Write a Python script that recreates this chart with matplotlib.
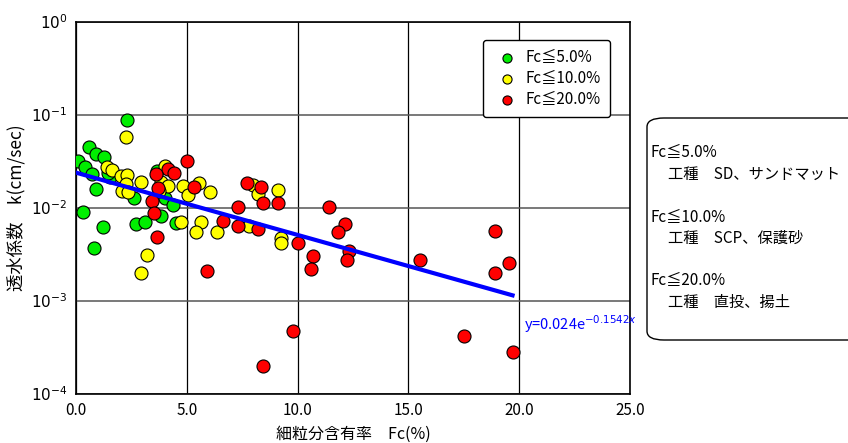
import numpy as np
import matplotlib
matplotlib.use("Agg")
import matplotlib.pyplot as plt
from matplotlib.patches import FancyBboxPatch

plt.rcParams['font.family'] = ['Noto Sans CJK JP', 'DejaVu Sans']

# 細粒分含有率 Fc(%) と 透水係数 k(cm/sec)
green_fc = [0.1, 0.42, 0.59, 0.9, 1.25, 0.74, 0.9, 1.53, 1.44, 2.31, 2.63, 3.67, 4.01, 4.39,
            0.3, 0.81, 1.22, 2.72, 3.13, 3.85, 4.52]
green_k = [0.032, 0.0278, 0.0456, 0.038, 0.0353, 0.023, 0.0159, 0.0217, 0.024, 0.0883, 0.0127,
           0.0252, 0.0127, 0.0108, 0.009, 0.00374, 0.0063, 0.00673, 0.0070, 0.0082, 0.00695]

yellow_fc = [2.24, 1.41, 1.64, 2.02, 2.29, 2.24, 2.09, 2.36, 2.93, 4.0, 3.82, 4.14, 3.76, 4.84,
             5.04, 5.53, 6.03, 8.0, 8.2, 9.13, 4.72, 5.62, 5.43, 6.35, 7.82, 9.23, 9.23, 3.22, 2.92]
yellow_k = [0.0585, 0.0278, 0.0256, 0.0223, 0.0226, 0.0181, 0.0153, 0.0150, 0.0192, 0.0285,
            0.0189, 0.0174, 0.0153, 0.0172, 0.0138, 0.0187, 0.015, 0.0177, 0.014, 0.0156,
            0.0070, 0.0070, 0.0055, 0.0055, 0.00645, 0.0048, 0.0042, 0.00313, 0.0020]

red_fc = [5.02, 4.16, 4.43, 3.63, 3.68, 5.34, 3.41, 7.73, 8.35, 8.42, 9.13, 7.32, 3.5, 3.64,
          5.92, 6.64, 7.32, 8.22, 10.0, 9.8, 8.45, 11.43, 12.13, 11.83, 12.33, 12.24, 10.7,
          10.6, 15.52, 18.91, 18.91, 19.52, 17.5, 19.72]
red_k = [0.032, 0.0263, 0.024, 0.023, 0.0163, 0.0167, 0.012, 0.0187, 0.017, 0.0114, 0.0112,
         0.0102, 0.0089, 0.00484, 0.00212, 0.0073, 0.0064, 0.0059, 0.0042, 0.00047, 0.0002,
         0.0102, 0.0067, 0.00556, 0.00345, 0.00276, 0.00305, 0.00221, 0.00276, 0.0057,
         0.00198, 0.00254, 0.00042, 0.00028]

# 近似曲線 y = a * exp(b * x)
fit_a = 0.024
fit_b = -0.1542
fit_range = [0.0, 19.7]

x_ticks = [0, 5, 10, 15, 20, 25]
x_labels = ["0.0", "5.0", "10.0", "15.0", "20.0", "25.0"]

fig = plt.figure(figsize=(8.48, 4.43), dpi=100)
ax = fig.add_axes([76/848, 1-394/443, 554/848, 372/443])

ms = 88
ax.scatter(green_fc, green_k, s=ms, c='#00ee00', edgecolors='black', linewidths=0.8,
           zorder=3, label='Fc≦5.0%')
ax.scatter(yellow_fc, yellow_k, s=ms, c='#ffff00', edgecolors='black', linewidths=0.8,
           zorder=3, label='Fc≦10.0%')
ax.scatter(red_fc, red_k, s=ms, c='#ff0000', edgecolors='black', linewidths=0.8,
           zorder=3, label='Fc≦20.0%')

xs = np.linspace(fit_range[0], fit_range[1], 100)
ax.plot(xs, fit_a * np.exp(fit_b * xs), color='#0000ff', lw=3, zorder=4)
ax.text(20.2, 5.6e-4, "y=0.024e$^{-0.1542x}$", color='#0000ff', fontsize=10.5,
        va='center', ha='left', zorder=5)

ax.set_yscale('log')
ax.set_xlim(0, 25)
ax.set_ylim(1e-4, 1)
ax.set_xticks(x_ticks)
ax.set_xticklabels(x_labels)
ax.set_yticks([1e-4, 1e-3, 1e-2, 1e-1, 1])
ax.set_yticklabels(["$10^{-4}$", "$10^{-3}$", "$10^{-2}$", "$10^{-1}$", "$10^{0}$"])
ax.minorticks_off()
ax.tick_params(length=0, labelsize=11, pad=6)

ax.grid(True, axis='x', color='black', lw=0.9)
ax.grid(True, axis='y', color='#555555', lw=1.1)
ax.set_axisbelow(True)
for sp in ax.spines.values():
    sp.set_color('black')
    sp.set_linewidth(1.2)

ax.set_xlabel("細粒分含有率　Fc(%)", fontsize=11.5, labelpad=5)
ax.set_ylabel("透水係数　k(cm/sec)", fontsize=12.5, labelpad=4)

leg = ax.legend(loc='upper right', bbox_to_anchor=(0.978, 0.972), fontsize=11,
                frameon=True, fancybox=True, edgecolor='black', framealpha=1,
                handletextpad=0.2, labelspacing=0.25, borderpad=0.6, markerscale=0.7)
leg.get_frame().set_linewidth(1.0)

# 右側の説明枠
W, H = 848, 443
box = FancyBboxPatch((647/W, 1-340/H), 230/W, 222/H,
                     boxstyle="round,pad=0,rounding_size=0.02",
                     transform=fig.transFigure, facecolor='white', edgecolor='black',
                     lw=1.0, clip_on=False)
fig.patches.append(box)

notes = [("Fc≦5.0%", 650, 153), ("工種　SD、サンドマット", 668, 174),
         ("Fc≦10.0%", 650, 217), ("工種　SCP、保護砂", 668, 238),
         ("Fc≦20.0%", 650, 280), ("工種　直投、揚土", 668, 302)]
for txt, px, py in notes:
    fig.text(px/W, 1-py/H, txt, fontsize=11, ha='left', va='center')

fig.savefig("out.png", dpi=100)
